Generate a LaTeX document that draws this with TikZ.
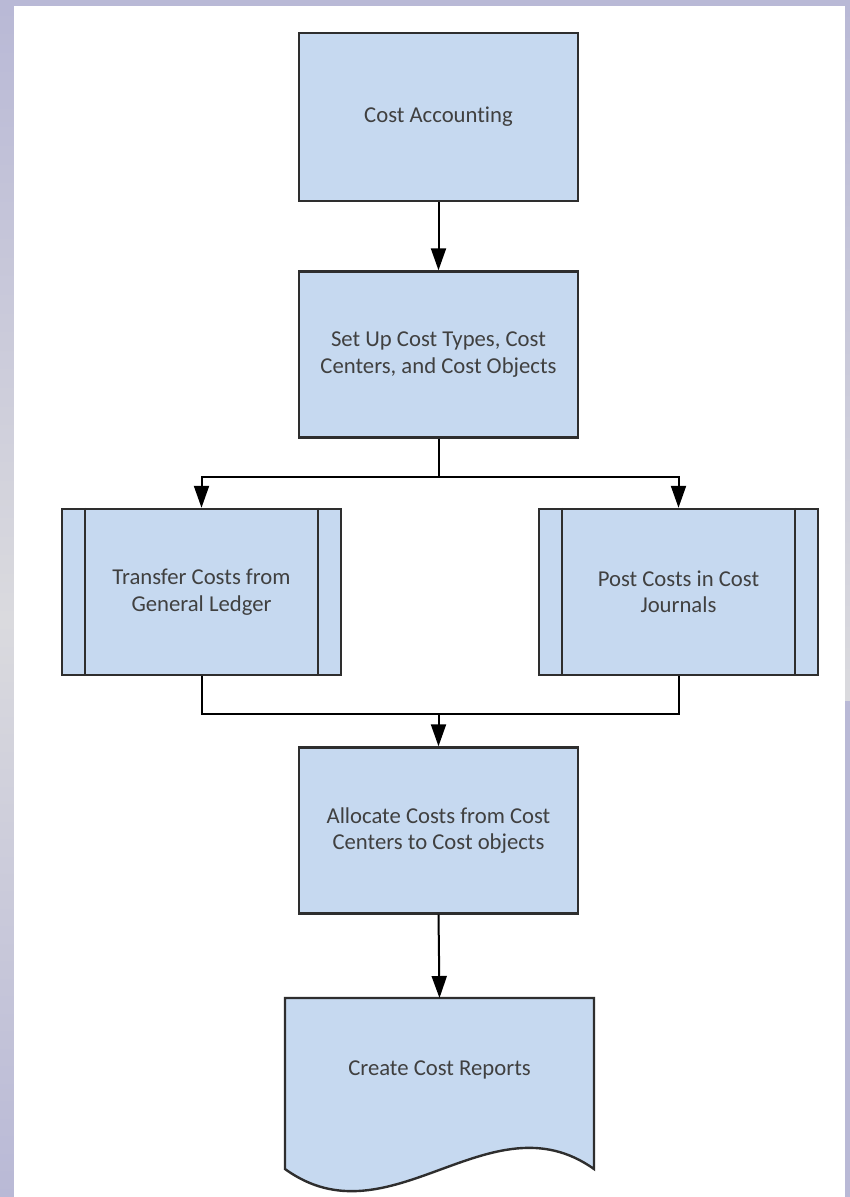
\documentclass[tikz,border=0pt]{standalone}
\usepackage{fontspec}
\setmainfont{Carlito}[Ligatures=NoCommon]
\usetikzlibrary{arrows.meta,calc,positioning}

\definecolor{slidelav}{HTML}{B9B9D6}
\definecolor{slidegray}{HTML}{DADADE}
\definecolor{boxblue}{HTML}{C6D9F0}
\definecolor{boxedge}{HTML}{2E2E2E}
\definecolor{labelgray}{HTML}{404040}

\begin{document}
\begin{tikzpicture}[x=1pt, y=-1pt, >={Triangle[length=22pt,width=15pt]},
    step box/.style={draw=boxedge, line width=2.4pt, fill=boxblue,
        minimum width=279pt, minimum height=166pt, inner sep=0pt,
        text=labelgray, align=center,
        font=\fontsize{22.7}{26.5}\selectfont},
    link/.style={draw=black, line width=2pt},
    flow/.style={link, ->}]
    \useasboundingbox (0,0) rectangle (850,1197);

    % slide background
    \fill[slidelav] (0,0) rectangle (850,1197);
    \shade[top color=slidelav, bottom color=slidegray] (0,6) rectangle (14,620);
    \shade[top color=slidegray, bottom color=slidelav] (0,620) rectangle (14,1197);
    \shade[top color=slidelav, bottom color=slidegray] (845,6) rectangle (850,700);
    \fill[white] (14,6) rectangle (845,1197);

    % main column
    \node[step box, minimum height=168pt] (cost) at (438.5,117) {Cost Accounting};
    \node[step box] (setup) at (438.5,354.5)
        {Set Up Cost Types, Cost\\Centers, and Cost Objects};

    % the two sub-processes
    \node[step box] (transfer) at (201.5,592)
        {Transfer Costs from\\General Ledger};
    \node[step box] (journal) at (678.5,592)
        {Post Costs in Cost\\Journals};
    \foreach \sub in {transfer, journal} {
        \draw[boxedge, line width=2.4pt] ([xshift=24pt]\sub.north west) -- ([xshift=24pt]\sub.south west);
        \draw[boxedge, line width=2.4pt] ([xshift=-24pt]\sub.north east) -- ([xshift=-24pt]\sub.south east);
    }

    \node[step box] (allocate) at (438.5,830.5)
        {Allocate Costs from Cost\\Centers to Cost objects};

    % document shape for the reports
    \draw[boxedge, line width=2.4pt, fill=boxblue]
        (285,998) -- (594,998) -- (594,1169)
        .. controls (490,1095) and (390,1245) .. (285,1169) -- cycle;
    \node[text=labelgray, font=\fontsize{22.7}{26.5}\selectfont] (report) at (439.5,1070) {Create Cost Reports};
    \coordinate (reptop) at (439.5,998);

    % connectors
    \draw[flow] (cost) -- (setup);
    \draw[link] (setup.south) -- ++(0,38) coordinate (fork);
    \draw[flow] (fork) -| (transfer.north);
    \draw[flow] (fork) -| (journal.north);
    \draw[link] (transfer.south) -- ++(0,38) coordinate (join) -| (journal.south);
    \draw[flow] (join -| allocate.north) -- (allocate.north);
    \draw[flow] (allocate.south) -- (reptop);
\end{tikzpicture}
\end{document}
